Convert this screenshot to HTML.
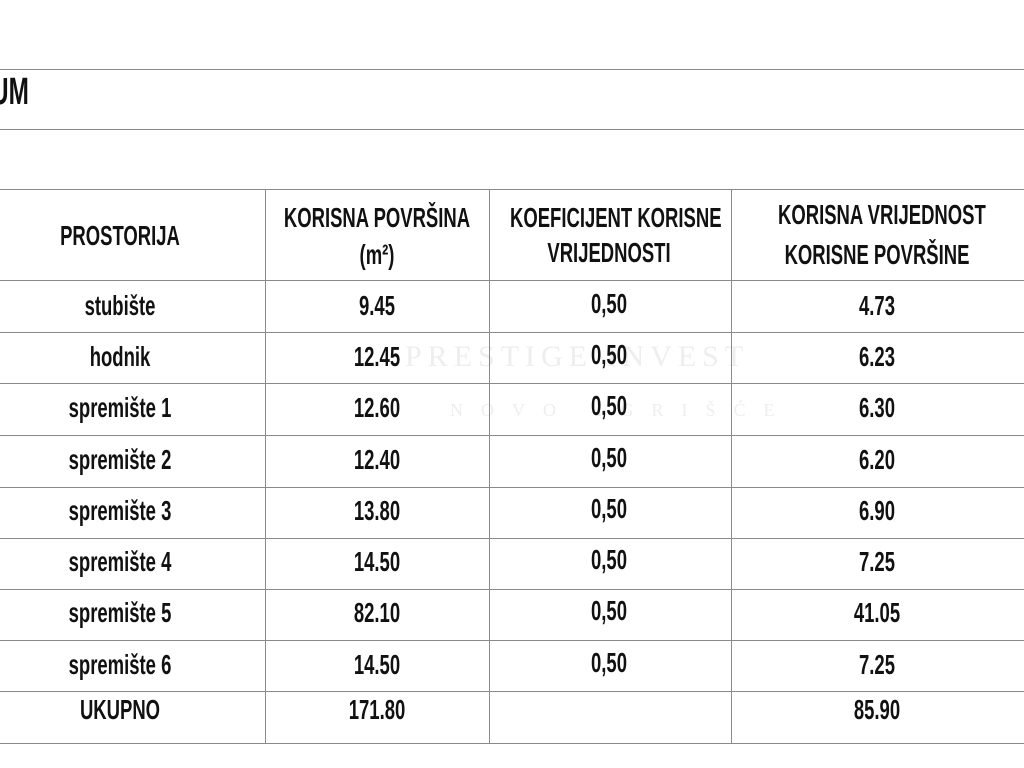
<!DOCTYPE html>
<html><head><meta charset="utf-8"><style>
body{margin:0;width:1024px;height:768px;background:#fff;position:relative;overflow:hidden;font-family:"Liberation Sans",sans-serif;}
.h{position:absolute;left:0;width:1024px;height:1px;background:#8a8a8a;}
.v{position:absolute;top:189px;height:555px;width:1px;background:#8a8a8a;}
.t{position:absolute;width:300px;text-align:center;font-weight:bold;font-size:28px;line-height:32px;color:#111;transform:translate(-50%,-50%) scaleX(0.66);white-space:nowrap;}
.wm{position:absolute;font-family:"Liberation Serif",serif;color:#eee;letter-spacing:6px;}
</style></head><body>
<div class="h" style="top:69px"></div>
<div class="h" style="top:129px"></div>
<div style="position:absolute;left:-9px;top:71px;font-weight:bold;font-size:38px;transform:scaleX(0.64);transform-origin:left;color:#111">UM</div>
<div class="wm" style="left:405px;top:340px;font-size:30px">PRESTIGE INVEST</div>
<div class="wm" style="left:450px;top:400px;font-size:18px;letter-spacing:18px">NOVO IGRIŠĆE</div>
<div class="h" style="top:189px"></div>
<div class="h" style="top:280px"></div>
<div class="h" style="top:332px"></div>
<div class="h" style="top:383px"></div>
<div class="h" style="top:435px"></div>
<div class="h" style="top:487px"></div>
<div class="h" style="top:538px"></div>
<div class="h" style="top:589px"></div>
<div class="h" style="top:640px"></div>
<div class="h" style="top:691px"></div>
<div class="h" style="top:743px"></div>
<div class="v" style="left:265px"></div>
<div class="v" style="left:489px"></div>
<div class="v" style="left:731px"></div>

<div class="t" style="left:120px;top:236px">PROSTORIJA</div>
<div class="t" style="left:377px;top:218px">KORISNA POVRŠINA</div>
<div class="t" style="left:377px;top:255px">(m²)</div>
<div class="t" style="left:609px;top:218px">KOEFICIJENT KORISNE</div>
<div class="t" style="left:609px;top:253px">VRIJEDNOSTI</div>
<div class="t" style="left:877px;top:215px">KORISNA VRIJEDNOST</div>
<div class="t" style="left:877px;top:255px">KORISNE POVRŠINE</div>

<div class="t" style="left:120px;top:306px">stubište</div><div class="t" style="left:377px;top:306px">9.45</div><div class="t" style="left:609px;top:304px">0,50</div><div class="t" style="left:877px;top:306px">4.73</div>
<div class="t" style="left:120px;top:357px">hodnik</div><div class="t" style="left:377px;top:357px">12.45</div><div class="t" style="left:609px;top:355px">0,50</div><div class="t" style="left:877px;top:357px">6.23</div>
<div class="t" style="left:120px;top:408px">spremište 1</div><div class="t" style="left:377px;top:408px">12.60</div><div class="t" style="left:609px;top:406px">0,50</div><div class="t" style="left:877px;top:408px">6.30</div>
<div class="t" style="left:120px;top:460px">spremište 2</div><div class="t" style="left:377px;top:460px">12.40</div><div class="t" style="left:609px;top:458px">0,50</div><div class="t" style="left:877px;top:460px">6.20</div>
<div class="t" style="left:120px;top:511px">spremište 3</div><div class="t" style="left:377px;top:511px">13.80</div><div class="t" style="left:609px;top:509px">0,50</div><div class="t" style="left:877px;top:511px">6.90</div>
<div class="t" style="left:120px;top:562px">spremište 4</div><div class="t" style="left:377px;top:562px">14.50</div><div class="t" style="left:609px;top:560px">0,50</div><div class="t" style="left:877px;top:562px">7.25</div>
<div class="t" style="left:120px;top:613px">spremište 5</div><div class="t" style="left:377px;top:613px">82.10</div><div class="t" style="left:609px;top:611px">0,50</div><div class="t" style="left:877px;top:613px">41.05</div>
<div class="t" style="left:120px;top:665px">spremište 6</div><div class="t" style="left:377px;top:665px">14.50</div><div class="t" style="left:609px;top:663px">0,50</div><div class="t" style="left:877px;top:665px">7.25</div>
<div class="t" style="left:120px;top:710px">UKUPNO</div><div class="t" style="left:377px;top:710px">171.80</div><div class="t" style="left:877px;top:710px">85.90</div>
</body></html>
